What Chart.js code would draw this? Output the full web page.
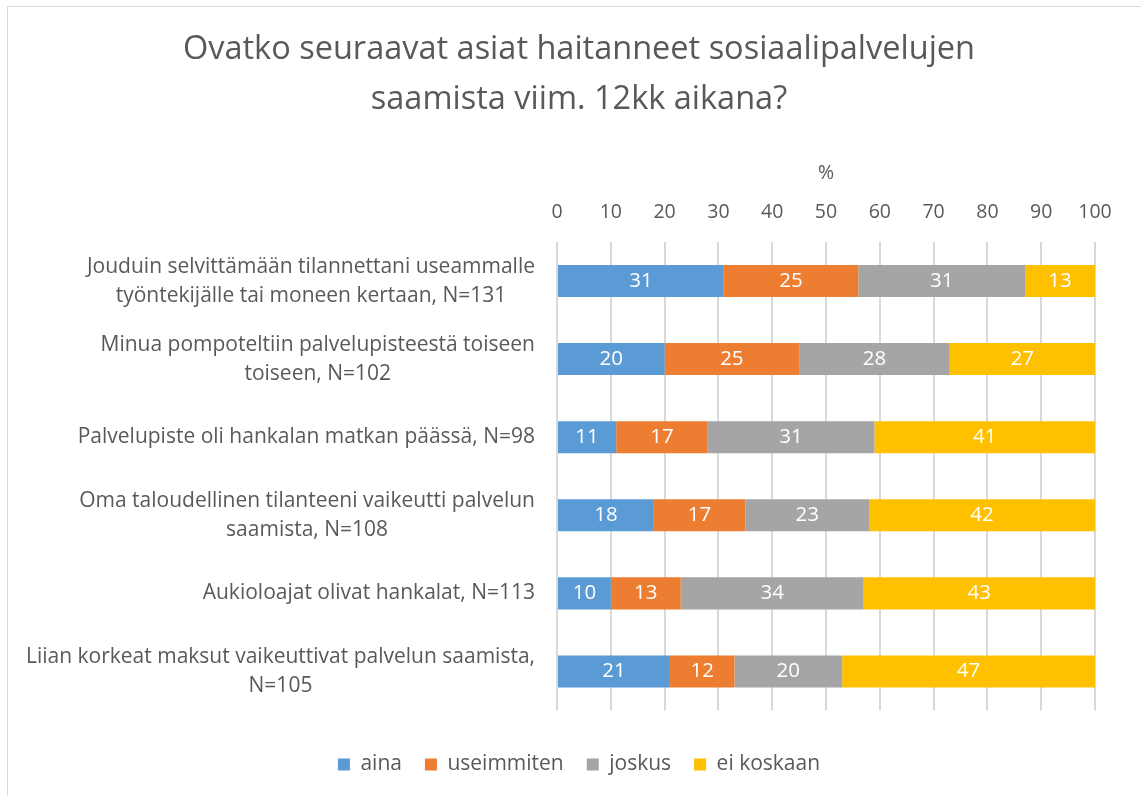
<!DOCTYPE html>
<html>
<head>
<meta charset="utf-8">
<script src="https://cdn.jsdelivr.net/npm/chart.js@4.4.0/dist/chart.umd.min.js"></script>
<style>
  html, body { margin: 0; padding: 0; background: #fff; overflow: hidden; }
  #wrap { position: absolute; left: 7px; top: 6px; width: 1160px; height: 820px; border: 1px solid #d9d9d9; background: #fff; }
  #box { position: absolute; left: 0; top: 0; width: 1133px; height: 789px; }
</style>
</head>
<body>
<div id="wrap"><div id="box"><canvas id="myChart"></canvas></div></div>
<script>
var categories = [
    ['Jouduin selvittämään tilannettani useammalle', 'työntekijälle tai moneen kertaan, N=131'],
    ['Minua pompoteltiin palvelupisteestä toiseen', 'toiseen, N=102'],
    ['Palvelupiste oli hankalan matkan päässä, N=98'],
    ['Oma taloudellinen tilanteeni vaikeutti palvelun', 'saamista, N=108'],
    ['Aukioloajat olivat hankalat, N=113'],
    ['Liian korkeat maksut vaikeuttivat palvelun saamista,', 'N=105']
];
var aina = [31, 20, 11, 18, 10, 21];
var useimmiten = [25, 25, 17, 17, 13, 12];
var joskus = [31, 28, 31, 23, 34, 20];
var eiKoskaan = [13, 27, 41, 42, 43, 47];
var xTicks = [0, 10, 20, 30, 40, 50, 60, 70, 80, 90, 100];

var fontFam = '"Open Sans", sans-serif';
var grey = '#595959';

// category labels: block right-aligned, lines centred inside the block
var catLabels = {
    id: 'catLabels',
    afterDraw: function (chart) {
        var c = chart.ctx, ys = chart.scales.y;
        c.save();
        c.font = '21px ' + fontFam;
        c.fillStyle = grey;
        c.textAlign = 'center';
        c.textBaseline = 'middle';
        var right = chart.chartArea.left - 22, lh = 29;
        categories.forEach(function (lines, i) {
            var w = 0;
            lines.forEach(function (l) { w = Math.max(w, c.measureText(l).width); });
            var cx = right - w / 2;
            var y0 = ys.getPixelForValue(i) - (lines.length - 1) * lh / 2;
            lines.forEach(function (l, k) { c.fillText(l, cx, y0 + k * lh); });
        });
        c.restore();
    }
};

// white value labels inside each segment
var barValues = {
    id: 'barValues',
    afterDatasetsDraw: function (chart) {
        var c = chart.ctx;
        c.save();
        c.font = '20.5px ' + fontFam;
        c.fillStyle = '#fff';
        c.textAlign = 'center';
        c.textBaseline = 'middle';
        chart.data.datasets.forEach(function (ds, di) {
            chart.getDatasetMeta(di).data.forEach(function (el, i) {
                c.fillText(ds.data[i], (el.x + el.base) / 2, el.y);
            });
        });
        c.restore();
    }
};

var legendFix = {
    id: 'legendFix',
    beforeUpdate: function (chart) {
        var lg = chart.legend;
        if (lg && !lg._fixed) {
            var f = lg.fit;
            lg.fit = function () { f.call(this); this.height += 11; };
            lg._fixed = true;
        }
    }
};

var ctx = document.getElementById('myChart').getContext('2d');
var myChart = new Chart(ctx, {
    type: 'bar',
    data: {
        labels: categories,
        datasets: [
            { label: 'aina', data: aina, backgroundColor: '#5B9BD5' },
            { label: 'useimmiten', data: useimmiten, backgroundColor: '#ED7D31' },
            { label: 'joskus', data: joskus, backgroundColor: '#A5A5A5' },
            { label: 'ei koskaan', data: eiKoskaan, backgroundColor: '#FFC000' }
        ]
    },
    options: {
        indexAxis: 'y',
        responsive: true,
        maintainAspectRatio: false,
        animation: false,
        datasets: { bar: { categoryPercentage: 1, barPercentage: 0.41, borderWidth: 0 } },
        layout: { padding: { top: 0, right: 46, bottom: 0, left: 55 } },
        plugins: {
            title: {
                display: true,
                text: ['Ovatko seuraavat asiat haitanneet sosiaalipalvelujen', 'saamista viim. 12kk aikana?'],
                color: grey,
                font: { family: fontFam, size: 32.5, weight: 'normal', lineHeight: 1.526 },
                padding: { top: 18.2, bottom: 0 }
            },
            legend: {
                position: 'bottom',
                labels: {
                    color: grey,
                    font: { family: fontFam, size: 21 },
                    boxWidth: 12, boxHeight: 12,
                    padding: 23
                }
            },
            tooltip: { enabled: false }
        },
        scales: {
            x: {
                position: 'top',
                stacked: true,
                min: 0, max: 100,
                afterBuildTicks: function (s) { s.ticks = xTicks.map(function (v) { return { value: v }; }); },
                afterFit: function (s) { s.height = 117.6; },
                ticks: { color: grey, font: { family: fontFam, size: 19.5 }, padding: 17.6, maxRotation: 0 },
                grid: { color: '#d9d9d9', lineWidth: 2, drawTicks: false },
                border: { display: false },
                title: {
                    display: true, text: '%', color: grey,
                    font: { family: fontFam, size: 19.5 },
                    padding: { top: 37.2, bottom: 0 }
                }
            },
            xb: {
                type: 'linear',
                position: 'bottom',
                display: true,
                grid: { display: false, drawTicks: false },
                border: { display: false },
                ticks: { display: false },
                afterFit: function (s) { s.height = 20.5; }
            },
            y: {
                stacked: true,
                grid: { display: false },
                border: { display: false },
                ticks: { display: false },
                afterFit: function (s) { s.width = 494; }
            }
        }
    },
    plugins: [catLabels, barValues, legendFix]
});
</script>
</body>
</html>
